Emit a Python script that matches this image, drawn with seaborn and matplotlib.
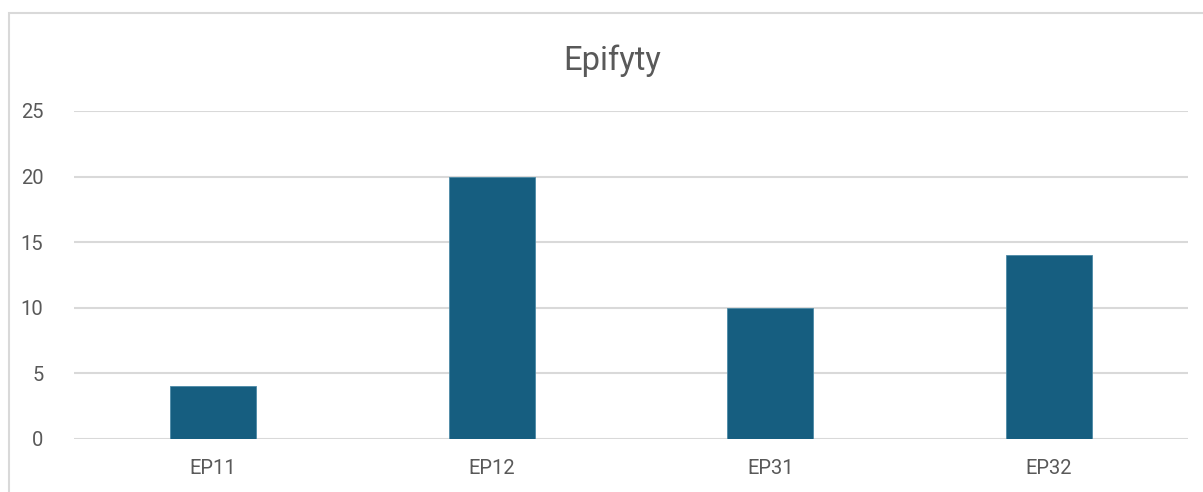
import pandas as pd
import seaborn as sns
import matplotlib.pyplot as plt
from matplotlib.patches import Rectangle

sites = ["EP11", "EP12", "EP31", "EP32"]
counts = [4, 20, 10, 14]
y_ticks = [0, 5, 10, 15, 20, 25]

df = pd.DataFrame({"Site": sites, "Count": counts})

sns.set_theme(style="white")
plt.rcParams['font.family'] = ['Roboto', 'DejaVu Sans']

fig = plt.figure(figsize=(12.03, 4.92), dpi=100)
ax = fig.add_axes([0.0615, 0.1087, 0.926, 0.6657])

sns.barplot(data=df, x="Site", y="Count", color="#165E80", width=0.31,
            saturation=1, ax=ax, zorder=3, edgecolor="#4d8aa6", linewidth=0.6)

ax.set_ylim(0, 25)
ax.set_xlim(-0.5, 3.5)
ax.set_yticks(y_ticks)
ax.set_yticklabels([str(t) for t in y_ticks])
ax.grid(axis="y", color="#D9D9D9", linewidth=1.5, zorder=0)
for s in ax.spines.values():
    s.set_visible(False)
ax.tick_params(axis="both", length=0, labelsize=14.5, labelcolor="#595959")
ax.tick_params(axis="y", pad=22)
ax.tick_params(axis="x", pad=15)
ax.set_xlabel("")
ax.set_ylabel("")

fig.text(0.5087, 0.876, "Epifyty", ha="center", va="center",
         fontsize=23.5, color="#595959")

# chart area border (cropped screenshot)
fig.patches.append(Rectangle((8.5 / 1203, -0.1), 1.2, (492 - 12.5) / 492 + 0.1,
                             transform=fig.transFigure, fill=False,
                             edgecolor="#D9D9D9", linewidth=1.5))

plt.savefig("out.png", dpi=100)
